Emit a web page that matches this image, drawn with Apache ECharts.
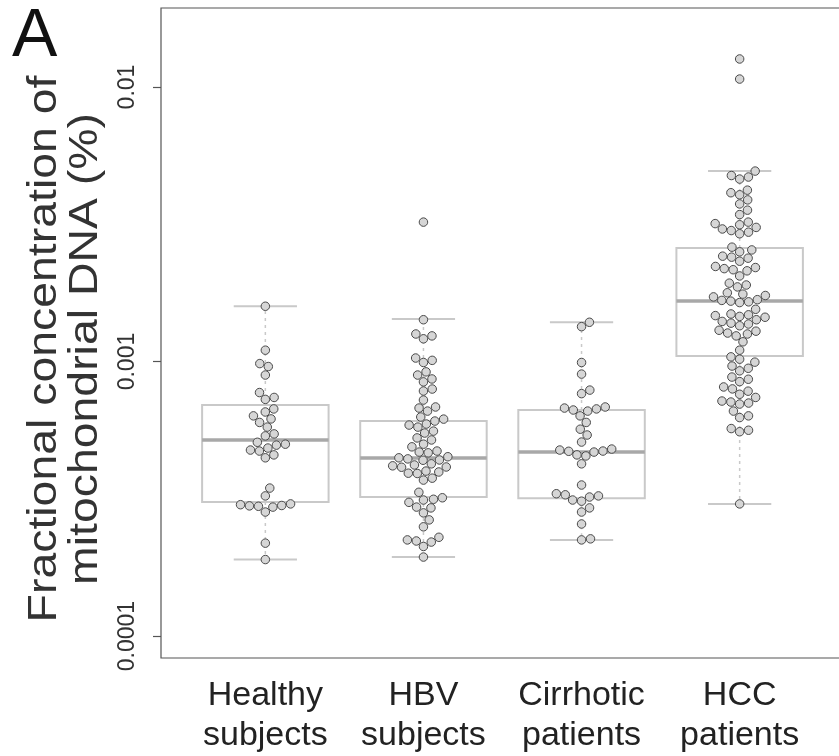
<!DOCTYPE html>
<html>
<head>
<meta charset="utf-8">
<script src="https://cdn.jsdelivr.net/npm/echarts@6/dist/echarts.min.js"></script>
<style>
  html, body { margin: 0; padding: 0; background: #fff; }
</style>
</head>
<body>
<div id="chart" style="width: 839px;height:756px;"></div>
<script>
// groups on the x axis
var groupNames = ['Healthy\nsubjects', 'HBV\nsubjects', 'Cirrhotic\npatients', 'HCC\npatients']
var yTickValues = [0.0001, 0.001, 0.01]
var yTickLabels = ['0.0001', '0.001', '0.01']

// box statistics per group (fraction, %)
var boxLow = [0.000190, 0.000194, 0.000224, 0.000303]
var boxQ1 = [0.000308, 0.000321, 0.000318, 0.001047]
var boxMedian = [0.000518, 0.000445, 0.000468, 0.00166]
var boxQ3 = [0.000695, 0.000607, 0.000666, 0.00259]
var boxHigh = [0.00159, 0.00143, 0.00139, 0.00494]

// individual subjects
var healthy = [0.00159, 0.00110, 0.000983, 0.000959, 0.000893, 0.000771, 0.000740, 0.000728,
  0.000672, 0.000655, 0.000634, 0.000618, 0.000600, 0.000577, 0.000545, 0.000536,
  0.000508, 0.000500, 0.000496, 0.000484, 0.000476, 0.000472, 0.000457, 0.000446,
  0.000346, 0.000324, 0.000303, 0.000301, 0.000299, 0.000298, 0.000297, 0.000295,
  0.000283, 0.000218, 0.000190]
var hbv = [0.00322, 0.00142, 0.00126, 0.00124, 0.00121, 0.00103, 0.00101, 0.000992,
  0.000917, 0.000893, 0.000864, 0.000843, 0.000794, 0.000781, 0.000724, 0.000683,
  0.000677, 0.000660, 0.000628, 0.000617, 0.000607, 0.000592, 0.000587, 0.000577,
  0.000558, 0.000549, 0.000527, 0.000518, 0.000500, 0.000489, 0.000472, 0.000468,
  0.000465, 0.000450, 0.000446, 0.000442, 0.000438, 0.000437, 0.000424, 0.000420,
  0.000417, 0.000413, 0.000412, 0.000399, 0.000396, 0.000392, 0.000391, 0.000376,
  0.000370, 0.000334, 0.000319, 0.000315, 0.000313, 0.000307, 0.000295, 0.000293,
  0.000281, 0.000265, 0.000250, 0.000229, 0.000224, 0.000222, 0.000220, 0.000212,
  0.000194]
var cirrhotic = [0.00139, 0.00134, 0.000992, 0.000900, 0.000787, 0.000764, 0.000683, 0.000677,
  0.000672, 0.000666, 0.000660, 0.000634, 0.000600, 0.000567, 0.000540, 0.000509,
  0.000480, 0.000476, 0.000472, 0.000471, 0.000468, 0.000457, 0.000453, 0.000424,
  0.000355, 0.000330, 0.000327, 0.000324, 0.000321, 0.000313, 0.000310, 0.000293,
  0.000283, 0.000256, 0.000226, 0.000224]
var hcc = [0.01265, 0.01069, 0.00494, 0.00476, 0.00470, 0.00462, 0.00421, 0.00412, 0.00405,
  0.00388, 0.00375, 0.00356, 0.00343, 0.00322, 0.00318, 0.00315, 0.00308, 0.00304,
  0.00300, 0.00296, 0.00292, 0.00261, 0.00255, 0.00251, 0.00242, 0.00240, 0.00238,
  0.00232, 0.00222, 0.00220, 0.00218, 0.00216, 0.00214, 0.00205, 0.00193, 0.00190,
  0.00187, 0.00178, 0.00176, 0.00174, 0.00172, 0.00168, 0.00167, 0.00166, 0.00165,
  0.00164, 0.00155, 0.00149, 0.00148, 0.00147, 0.00146, 0.00145, 0.00142, 0.00140,
  0.00138, 0.00137, 0.00135, 0.00130, 0.00129, 0.00127, 0.00126, 0.00124, 0.00118,
  0.00110, 0.00104, 0.00102, 0.000995, 0.000963, 0.000945, 0.000925, 0.000878,
  0.000862, 0.000845, 0.000808, 0.000795, 0.000780, 0.000760, 0.000740, 0.000718,
  0.000712, 0.000706, 0.000700, 0.000660, 0.000634, 0.000625, 0.000570, 0.000562,
  0.000555, 0.000303]
var groups = [healthy, hbv, cirrhotic, hcc]

var yExtent = [0.0000832, 0.0194]
var xExtent = [0.34, 4.66]

// grid in pixels (right edge runs off the canvas like the original)
var gridLeft = 161, gridTop = 8, gridW = 683, gridH = 650
var yPx = gridH / (Math.log10(yExtent[1]) - Math.log10(yExtent[0]))
var xPx = gridW / (xExtent[1] - xExtent[0])
var dotD = 9

// simple beeswarm: place each point as close to the centre as possible
function swarm (vals) {
  var order = vals.map(function (v, i) { return i })
  order.sort(function (a, b) { return vals[a] - vals[b] })
  var placed = []
  var xs = []
  order.forEach(function (i) {
    var y = Math.log10(vals[i]) * yPx
    var near = placed.filter(function (p) { return Math.abs(p.y - y) < dotD })
    var cands = [0]
    near.forEach(function (p) {
      var w = Math.sqrt(dotD * dotD - (p.y - y) * (p.y - y))
      cands.push(p.x + w, p.x - w)
    })
    cands.sort(function (a, b) { return Math.abs(a) - Math.abs(b) })
    var x = 0
    for (var k = 0; k < cands.length; k++) {
      var c = cands[k]
      var ok = near.every(function (p) {
        return (p.x - c) * (p.x - c) + (p.y - y) * (p.y - y) >= dotD * dotD - 0.01
      })
      if (ok) { x = c; break }
    }
    placed.push({x: x, y: y})
    xs[i] = x
  })
  return xs
}

var pointData = []
groups.forEach(function (vals, g) {
  var offs = swarm(vals)
  vals.forEach(function (v, i) {
    pointData.push([g + 1 + offs[i] / xPx, Math.log10(v)])
  })
})

var boxData = groupNames.map(function (n, i) {
  return [i + 1, Math.log10(boxLow[i]), Math.log10(boxQ1[i]), Math.log10(boxMedian[i]),
    Math.log10(boxQ3[i]), Math.log10(boxHigh[i])]
})

function renderBox (params, api) {
  var x = api.value(0)
  var half = 0.4, cap = 0.2
  var pLow = api.coord([x, api.value(1)])
  var pQ1 = api.coord([x, api.value(2)])
  var pMed = api.coord([x, api.value(3)])
  var pQ3 = api.coord([x, api.value(4)])
  var pHigh = api.coord([x, api.value(5)])
  var l = api.coord([x - half, 0])[0], r = api.coord([x + half, 0])[0]
  var cl = api.coord([x - cap, 0])[0], cr = api.coord([x + cap, 0])[0]
  var light = '#c9c9c9'
  return {
    type: 'group',
    children: [
      {type: 'line', shape: {x1: pQ3[0], y1: pQ3[1], x2: pHigh[0], y2: pHigh[1]},
        style: {stroke: light, lineWidth: 1.5, lineDash: [3, 4]}},
      {type: 'line', shape: {x1: pQ1[0], y1: pQ1[1], x2: pLow[0], y2: pLow[1]},
        style: {stroke: light, lineWidth: 1.5, lineDash: [3, 4]}},
      {type: 'line', shape: {x1: cl, y1: pHigh[1], x2: cr, y2: pHigh[1]},
        style: {stroke: light, lineWidth: 2}},
      {type: 'line', shape: {x1: cl, y1: pLow[1], x2: cr, y2: pLow[1]},
        style: {stroke: light, lineWidth: 2}},
      {type: 'rect', shape: {x: l, y: pQ3[1], width: r - l, height: pQ1[1] - pQ3[1]},
        style: {fill: 'none', stroke: light, lineWidth: 2}},
      {type: 'line', shape: {x1: l, y1: pMed[1], x2: r, y2: pMed[1]},
        style: {stroke: '#a8a8a8', lineWidth: 3.5}}
    ]
  }
}

var option = {
  animation: false,
  textStyle: {fontFamily: 'Liberation Sans'},
  grid: {
    left: gridLeft, top: gridTop, width: gridW, height: gridH,
    outerBoundsMode: 'none',
    show: true, borderColor: '#555', borderWidth: 1.2, backgroundColor: '#fff'
  },
  xAxis: {
    type: 'value',
    min: xExtent[0],
    max: xExtent[1],
    axisLine: {show: false},
    axisTick: {show: false},
    splitLine: {show: false},
    axisLabel: {
      customValues: [1, 2, 3, 4],
      formatter: function (v) { return groupNames[Math.round(v) - 1] },
      fontSize: 34,
      lineHeight: 40,
      color: '#222',
      margin: 18
    }
  },
  yAxis: {
    type: 'value',
    min: Math.log10(yExtent[0]),
    max: Math.log10(yExtent[1]),
    axisLine: {show: false},
    splitLine: {show: false},
    axisTick: {
      show: true,
      customValues: yTickValues.map(function (v) { return Math.log10(v) }),
      length: 8,
      lineStyle: {color: '#555', width: 1.2}
    },
    axisLabel: {
      customValues: yTickValues.map(function (v) { return Math.log10(v) }),
      formatter: function (v) {
        for (var i = 0; i < yTickValues.length; i++) {
          if (Math.abs(Math.log10(yTickValues[i]) - v) < 1e-6) return yTickLabels[i]
        }
        return ''
      },
      rotate: 90,
      fontSize: 23,
      color: '#333',
      margin: 22
    }
  },
  graphic: [
    {type: 'text', left: 12, top: 3, style: {text: 'A', fontSize: 68, fill: '#111', fontFamily: 'Liberation Sans'}},
    {type: 'text', x: 45, y: 349, rotation: Math.PI / 2, scaleX: 1.16,
      style: {text: 'Fractional concentration of', fontSize: 40, fill: '#333', fontFamily: 'Liberation Sans', align: 'center', verticalAlign: 'middle'}},
    {type: 'text', x: 86, y: 349, rotation: Math.PI / 2, scaleX: 1.16,
      style: {text: 'mitochondrial DNA (%)', fontSize: 40, fill: '#333', fontFamily: 'Liberation Sans', align: 'center', verticalAlign: 'middle'}}
  ],
  series: [
    {
      type: 'custom',
      renderItem: renderBox,
      data: boxData,
      z: 1
    },
    {
      type: 'scatter',
      data: pointData,
      symbol: 'circle',
      symbolSize: 8.5,
      itemStyle: {color: '#d6d6d6', borderColor: '#4a4a4a', borderWidth: 1, opacity: 1},
      z: 2
    }
  ]
}

var myChart = echarts.init(document.getElementById('chart'))
myChart.setOption(option)
</script>
</body>
</html>
